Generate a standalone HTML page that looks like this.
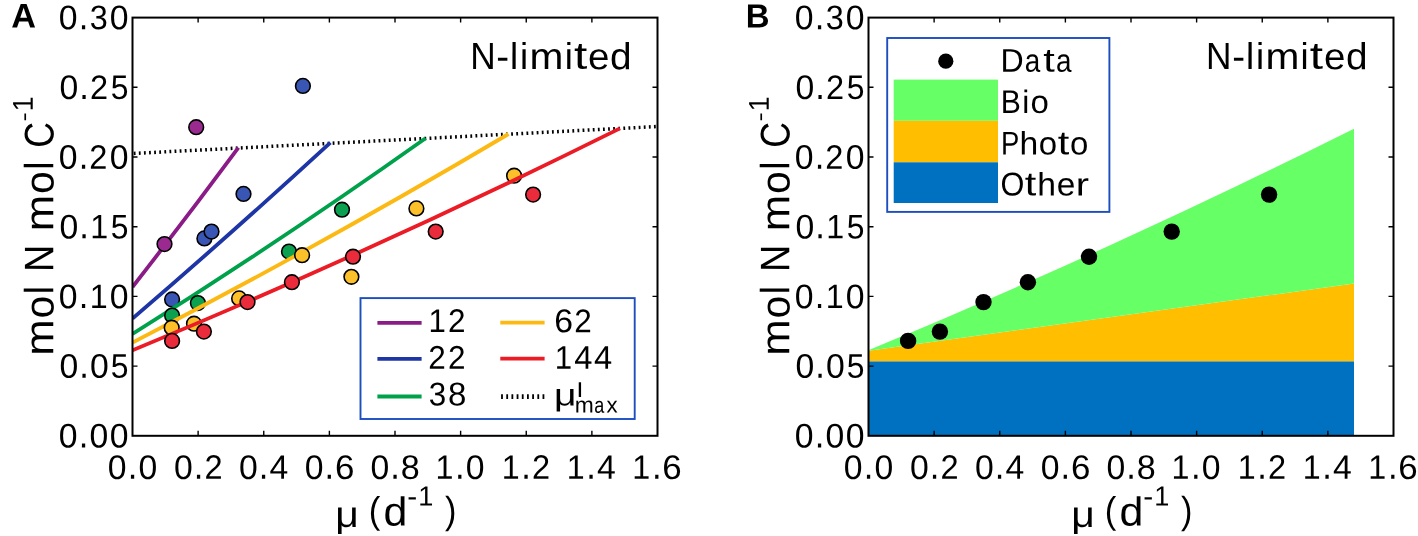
<!DOCTYPE html>
<html><head><meta charset="utf-8"><style>
html,body{margin:0;padding:0;background:#fff;width:1418px;height:536px;overflow:hidden}
svg{display:block;will-change:transform}
text{font-family:"Liberation Sans", sans-serif;font-kerning:none;text-rendering:geometricPrecision}
</style></head><body>
<svg width="1418" height="536" viewBox="0 0 1418 536">
<rect width="1418" height="536" fill="#fff"/>
<defs><clipPath id="ca"><rect x="132.5" y="17.6" width="525" height="418.20"/></clipPath></defs><g clip-path="url(#ca)">
<line x1="133.75" y1="153.45" x2="657.5" y2="126.5" stroke="#000" stroke-width="3.5" stroke-dasharray="1.8 3.307"/>
<path d="M132.5,287.0 Q185.45,219.10 238.4,147.6" fill="none" stroke="#8a1b87" stroke-width="3.8"/>
<circle cx="164.5" cy="244.1" r="7.35" fill="#9a2a90" stroke="#000" stroke-width="1.6"/>
<circle cx="196.2" cy="127.2" r="7.35" fill="#9a2a90" stroke="#000" stroke-width="1.6"/>
<path d="M132.5,318.6 Q231.45,233.60 330.4,142.6" fill="none" stroke="#1e35a5" stroke-width="3.8"/>
<circle cx="172.1" cy="299.5" r="7.35" fill="#3a56b4" stroke="#000" stroke-width="1.6"/>
<circle cx="204.4" cy="238.4" r="7.35" fill="#3a56b4" stroke="#000" stroke-width="1.6"/>
<circle cx="211.5" cy="231.6" r="7.35" fill="#3a56b4" stroke="#000" stroke-width="1.6"/>
<circle cx="243.5" cy="193.9" r="7.35" fill="#3a56b4" stroke="#000" stroke-width="1.6"/>
<circle cx="302.9" cy="85.9" r="7.35" fill="#3a56b4" stroke="#000" stroke-width="1.6"/>
<path d="M132.5,334.0 Q279.05,242.10 425.6,138.2" fill="none" stroke="#00a14b" stroke-width="3.8"/>
<circle cx="172.1" cy="315.6" r="7.35" fill="#0ba150" stroke="#000" stroke-width="1.6"/>
<circle cx="197.9" cy="303.1" r="7.35" fill="#0ba150" stroke="#000" stroke-width="1.6"/>
<circle cx="289" cy="251.6" r="7.35" fill="#0ba150" stroke="#000" stroke-width="1.6"/>
<circle cx="342" cy="209.7" r="7.35" fill="#0ba150" stroke="#000" stroke-width="1.6"/>
<path d="M132.5,342.6 Q320.50,245.50 508.5,134.0" fill="none" stroke="#fdb913" stroke-width="3.8"/>
<circle cx="171.7" cy="327.7" r="7.35" fill="#fcc12a" stroke="#000" stroke-width="1.6"/>
<circle cx="194" cy="323.7" r="7.35" fill="#fcc12a" stroke="#000" stroke-width="1.6"/>
<circle cx="239.1" cy="298.4" r="7.35" fill="#fcc12a" stroke="#000" stroke-width="1.6"/>
<circle cx="302.1" cy="255.2" r="7.35" fill="#fcc12a" stroke="#000" stroke-width="1.6"/>
<circle cx="351.4" cy="276.8" r="7.35" fill="#fcc12a" stroke="#000" stroke-width="1.6"/>
<circle cx="416.4" cy="208.4" r="7.35" fill="#fcc12a" stroke="#000" stroke-width="1.6"/>
<circle cx="514.1" cy="175.7" r="7.35" fill="#fcc12a" stroke="#000" stroke-width="1.6"/>
<path d="M132.5,350.3 Q376.25,249.75 620.0,128.4" fill="none" stroke="#ec1c26" stroke-width="3.8"/>
<circle cx="172.1" cy="340.9" r="7.35" fill="#ea2b3b" stroke="#000" stroke-width="1.6"/>
<circle cx="203.9" cy="331.6" r="7.35" fill="#ea2b3b" stroke="#000" stroke-width="1.6"/>
<circle cx="247.5" cy="302.1" r="7.35" fill="#ea2b3b" stroke="#000" stroke-width="1.6"/>
<circle cx="291.9" cy="282.2" r="7.35" fill="#ea2b3b" stroke="#000" stroke-width="1.6"/>
<circle cx="353" cy="256.7" r="7.35" fill="#ea2b3b" stroke="#000" stroke-width="1.6"/>
<circle cx="435.7" cy="231.6" r="7.35" fill="#ea2b3b" stroke="#000" stroke-width="1.6"/>
<circle cx="533.1" cy="194.6" r="7.35" fill="#ea2b3b" stroke="#000" stroke-width="1.6"/>
</g>
<rect x="360.5" y="298.1" width="274.2" height="120.9" fill="#fff" stroke="#1c4ec0" stroke-width="1.9"/>
<line x1="377.4" y1="322.8" x2="421.6" y2="322.8" stroke="#8a1b87" stroke-width="3.8"/>
<line x1="377.4" y1="358.8" x2="421.6" y2="358.8" stroke="#1e35a5" stroke-width="3.8"/>
<line x1="377.4" y1="396.5" x2="421.6" y2="396.5" stroke="#00a14b" stroke-width="3.8"/>
<line x1="500.3" y1="322.6" x2="544.6" y2="322.6" stroke="#fdb913" stroke-width="3.8"/>
<line x1="500.3" y1="358.7" x2="544.6" y2="358.7" stroke="#ec1c26" stroke-width="3.8"/>
<line x1="501.1" y1="396.6" x2="544.6" y2="396.6" stroke="#000" stroke-width="4.6" stroke-dasharray="1.8 3.38"/>
<text transform="translate(428.53,332.10) rotate(0.05) scale(0.9458,0.9954)" style="font-size:33.0px;" fill="#000">1</text>
<text transform="translate(447.91,332.10) rotate(0.05) scale(0.9545,0.9985)" style="font-size:33.0px;" fill="#000">2</text>
<text transform="translate(428.19,368.70) rotate(0.05) scale(0.9545,0.9985)" style="font-size:33.0px;" fill="#000">2</text>
<text transform="translate(447.91,368.70) rotate(0.05) scale(0.9545,0.9985)" style="font-size:33.0px;" fill="#000">2</text>
<text transform="translate(428.67,405.42) rotate(0.05) scale(0.9481,1.0005)" style="font-size:33.1px;" fill="#000">3</text>
<text transform="translate(447.89,405.42) rotate(0.05) scale(0.9980,1.0005)" style="font-size:33.1px;" fill="#000">8</text>
<text transform="translate(554.25,332.32) rotate(0.05) scale(1.0218,1.0005)" style="font-size:33.1px;" fill="#000">6</text>
<text transform="translate(574.21,332.20) rotate(0.05) scale(0.9516,0.9955)" style="font-size:33.1px;" fill="#000">2</text>
<text transform="translate(554.83,368.80) rotate(0.05) scale(0.9515,1.0015)" style="font-size:32.8px;" fill="#000">1</text>
<text transform="translate(574.29,368.80) rotate(0.05) scale(0.9964,1.0015)" style="font-size:32.8px;" fill="#000">4</text>
<text transform="translate(594.01,368.80) rotate(0.05) scale(0.9964,1.0015)" style="font-size:32.8px;" fill="#000">4</text>
<text transform="translate(554.07,405.51) rotate(0.05) scale(1.2510,1.0013)" style="font-size:31.2px;" fill="#000">μ</text>
<text transform="translate(576.94,397.00) rotate(0.05) scale(1.2891,0.9993)" style="font-size:20.3px;" fill="#000">l</text>
<text transform="translate(574.68,412.60) rotate(0.05) scale(1.0152,0.9909)" style="font-size:22.5px;" fill="#000">m</text>
<text transform="translate(594.35,412.68) rotate(0.05) scale(0.8012,0.9978)" style="font-size:22.5px;" fill="#000">a</text>
<text transform="translate(606.52,412.60) rotate(0.05) scale(0.9884,0.9855)" style="font-size:22.5px;" fill="#000">x</text>
<text transform="translate(11.25,27.50) rotate(0.05) scale(0.9995,1.0001)" style="font-size:34.3px;font-weight:bold;" fill="#000">A</text>
<text transform="translate(745.70,27.40) rotate(0.05) scale(0.9809,0.9993)" style="font-size:33.6px;font-weight:bold;" fill="#000">B</text>
<path d="M132.5,366.10h5M657.5,366.10h-5M132.5,296.40h5M657.5,296.40h-5M132.5,226.70h5M657.5,226.70h-5M132.5,157.00h5M657.5,157.00h-5M132.5,87.30h5M657.5,87.30h-5M198.12,435.8v-5M198.12,17.6v5M263.75,435.8v-5M263.75,17.6v5M329.38,435.8v-5M329.38,17.6v5M395.00,435.8v-5M395.00,17.6v5M460.62,435.8v-5M460.62,17.6v5M526.25,435.8v-5M526.25,17.6v5M591.88,435.8v-5M591.88,17.6v5" stroke="#000" stroke-width="1.4" fill="none"/>
<rect x="132.5" y="17.6" width="525" height="418.20" fill="none" stroke="#000" stroke-width="2"/>
<text transform="translate(58.87,447.57) rotate(0.05) scale(0.9863,0.9996)" style="font-size:34.2px;" fill="#000">0</text>
<text transform="translate(78.69,447.45) rotate(0.05) scale(1.0124,1.0852)" style="font-size:34.2px;" fill="#000">.</text>
<text transform="translate(89.40,447.57) rotate(0.05) scale(0.9863,0.9996)" style="font-size:34.2px;" fill="#000">0</text>
<text transform="translate(109.76,447.57) rotate(0.05) scale(0.9863,0.9996)" style="font-size:34.2px;" fill="#000">0</text>
<text transform="translate(59.54,377.87) rotate(0.05) scale(0.9863,0.9996)" style="font-size:34.2px;" fill="#000">0</text>
<text transform="translate(79.37,377.75) rotate(0.05) scale(1.0124,1.0852)" style="font-size:34.2px;" fill="#000">.</text>
<text transform="translate(90.07,377.87) rotate(0.05) scale(0.9863,0.9996)" style="font-size:34.2px;" fill="#000">0</text>
<text transform="translate(110.83,377.87) rotate(0.05) scale(0.9309,0.9966)" style="font-size:34.2px;" fill="#000">5</text>
<text transform="translate(58.87,308.17) rotate(0.05) scale(0.9863,0.9996)" style="font-size:34.2px;" fill="#000">0</text>
<text transform="translate(78.69,308.05) rotate(0.05) scale(1.0124,1.0852)" style="font-size:34.2px;" fill="#000">.</text>
<text transform="translate(89.67,308.05) rotate(0.05) scale(0.9420,0.9915)" style="font-size:34.2px;" fill="#000">1</text>
<text transform="translate(109.76,308.17) rotate(0.05) scale(0.9863,0.9996)" style="font-size:34.2px;" fill="#000">0</text>
<text transform="translate(59.54,238.47) rotate(0.05) scale(0.9863,0.9996)" style="font-size:34.2px;" fill="#000">0</text>
<text transform="translate(79.37,238.35) rotate(0.05) scale(1.0124,1.0852)" style="font-size:34.2px;" fill="#000">.</text>
<text transform="translate(90.34,238.35) rotate(0.05) scale(0.9420,0.9915)" style="font-size:34.2px;" fill="#000">1</text>
<text transform="translate(110.83,238.47) rotate(0.05) scale(0.9309,0.9966)" style="font-size:34.2px;" fill="#000">5</text>
<text transform="translate(58.87,168.77) rotate(0.05) scale(0.9863,0.9996)" style="font-size:34.2px;" fill="#000">0</text>
<text transform="translate(78.69,168.65) rotate(0.05) scale(1.0124,1.0852)" style="font-size:34.2px;" fill="#000">.</text>
<text transform="translate(89.31,168.65) rotate(0.05) scale(0.9507,0.9946)" style="font-size:34.2px;" fill="#000">2</text>
<text transform="translate(109.76,168.77) rotate(0.05) scale(0.9863,0.9996)" style="font-size:34.2px;" fill="#000">0</text>
<text transform="translate(59.54,99.07) rotate(0.05) scale(0.9863,0.9996)" style="font-size:34.2px;" fill="#000">0</text>
<text transform="translate(79.37,98.95) rotate(0.05) scale(1.0124,1.0852)" style="font-size:34.2px;" fill="#000">.</text>
<text transform="translate(89.99,98.95) rotate(0.05) scale(0.9507,0.9946)" style="font-size:34.2px;" fill="#000">2</text>
<text transform="translate(110.83,99.07) rotate(0.05) scale(0.9309,0.9966)" style="font-size:34.2px;" fill="#000">5</text>
<text transform="translate(58.87,29.37) rotate(0.05) scale(0.9863,0.9996)" style="font-size:34.2px;" fill="#000">0</text>
<text transform="translate(78.69,29.25) rotate(0.05) scale(1.0124,1.0852)" style="font-size:34.2px;" fill="#000">.</text>
<text transform="translate(89.81,29.37) rotate(0.05) scale(0.9472,0.9996)" style="font-size:34.2px;" fill="#000">3</text>
<text transform="translate(109.76,29.37) rotate(0.05) scale(0.9863,0.9996)" style="font-size:34.2px;" fill="#000">0</text>
<text transform="translate(107.85,478.92) rotate(0.05) scale(0.9863,0.9996)" style="font-size:34.2px;" fill="#000">0</text>
<text transform="translate(127.68,478.80) rotate(0.05) scale(1.0124,1.0852)" style="font-size:34.2px;" fill="#000">.</text>
<text transform="translate(138.39,478.92) rotate(0.05) scale(0.9863,0.9996)" style="font-size:34.2px;" fill="#000">0</text>
<text transform="translate(174.02,478.92) rotate(0.05) scale(0.9863,0.9996)" style="font-size:34.2px;" fill="#000">0</text>
<text transform="translate(193.85,478.80) rotate(0.05) scale(1.0124,1.0852)" style="font-size:34.2px;" fill="#000">.</text>
<text transform="translate(204.47,478.80) rotate(0.05) scale(0.9507,0.9946)" style="font-size:34.2px;" fill="#000">2</text>
<text transform="translate(238.94,478.92) rotate(0.05) scale(0.9863,0.9996)" style="font-size:34.2px;" fill="#000">0</text>
<text transform="translate(258.77,478.80) rotate(0.05) scale(1.0124,1.0852)" style="font-size:34.2px;" fill="#000">.</text>
<text transform="translate(269.47,478.80) rotate(0.05) scale(0.9864,0.9915)" style="font-size:34.2px;" fill="#000">4</text>
<text transform="translate(304.67,478.92) rotate(0.05) scale(0.9863,0.9996)" style="font-size:34.2px;" fill="#000">0</text>
<text transform="translate(324.50,478.80) rotate(0.05) scale(1.0124,1.0852)" style="font-size:34.2px;" fill="#000">.</text>
<text transform="translate(334.88,478.92) rotate(0.05) scale(1.0208,0.9996)" style="font-size:34.2px;" fill="#000">6</text>
<text transform="translate(370.39,478.92) rotate(0.05) scale(0.9863,0.9996)" style="font-size:34.2px;" fill="#000">0</text>
<text transform="translate(390.21,478.80) rotate(0.05) scale(1.0124,1.0852)" style="font-size:34.2px;" fill="#000">.</text>
<text transform="translate(400.82,478.92) rotate(0.05) scale(0.9970,0.9996)" style="font-size:34.2px;" fill="#000">8</text>
<text transform="translate(435.55,478.80) rotate(0.05) scale(0.9420,0.9915)" style="font-size:34.2px;" fill="#000">1</text>
<text transform="translate(455.10,478.80) rotate(0.05) scale(1.0124,1.0852)" style="font-size:34.2px;" fill="#000">.</text>
<text transform="translate(465.81,478.92) rotate(0.05) scale(0.9863,0.9996)" style="font-size:34.2px;" fill="#000">0</text>
<text transform="translate(501.71,478.80) rotate(0.05) scale(0.9476,0.9973)" style="font-size:34.0px;" fill="#000">1</text>
<text transform="translate(521.27,478.80) rotate(0.05) scale(1.0184,1.0916)" style="font-size:34.0px;" fill="#000">.</text>
<text transform="translate(531.89,478.80) rotate(0.05) scale(0.9563,1.0004)" style="font-size:34.0px;" fill="#000">2</text>
<text transform="translate(566.63,478.80) rotate(0.05) scale(0.9504,1.0002)" style="font-size:33.9px;" fill="#000">1</text>
<text transform="translate(586.19,478.80) rotate(0.05) scale(1.0214,1.0948)" style="font-size:33.9px;" fill="#000">.</text>
<text transform="translate(596.89,478.80) rotate(0.05) scale(0.9952,1.0002)" style="font-size:33.9px;" fill="#000">4</text>
<text transform="translate(632.37,478.80) rotate(0.05) scale(0.9420,0.9915)" style="font-size:34.2px;" fill="#000">1</text>
<text transform="translate(651.92,478.80) rotate(0.05) scale(1.0124,1.0852)" style="font-size:34.2px;" fill="#000">.</text>
<text transform="translate(662.30,478.92) rotate(0.05) scale(1.0208,0.9996)" style="font-size:34.2px;" fill="#000">6</text>
<text transform="translate(53.25,355.80) rotate(-89.95) scale(1.0661,0.9873)" style="font-size:41.0px;" fill="#000">m</text>
<text transform="translate(53.40,318.61) rotate(-89.95) scale(0.9947,0.9943)" style="font-size:41.0px;" fill="#000">o</text>
<text transform="translate(53.25,294.57) rotate(-89.95) scale(0.9565,0.9946)" style="font-size:41.0px;" fill="#000">l</text>
<text transform="translate(53.25,272.03) rotate(-89.95) scale(0.9242,1.0052)" style="font-size:41.0px;" fill="#000">N</text>
<text transform="translate(53.25,231.22) rotate(-89.95) scale(1.0661,0.9873)" style="font-size:41.0px;" fill="#000">m</text>
<text transform="translate(53.40,194.03) rotate(-89.95) scale(0.9947,0.9943)" style="font-size:41.0px;" fill="#000">o</text>
<text transform="translate(53.25,169.99) rotate(-89.95) scale(0.9565,0.9946)" style="font-size:41.0px;" fill="#000">l</text>
<text transform="translate(53.39,147.76) rotate(-89.95) scale(0.8686,1.0134)" style="font-size:41.0px;" fill="#000">C</text>
<text transform="translate(31.03,121.62) rotate(-89.95) scale(1.2589,0.9982)" style="font-size:21.8px;" fill="#000">-</text>
<text transform="translate(32.80,111.13) rotate(-89.95) scale(0.9326,1.0012)" style="font-size:28.6px;" fill="#000">1</text>
<text transform="translate(335.35,526.94) rotate(0.05) scale(1.1105,0.9999)" style="font-size:36.8px;" fill="#000">μ</text>
<text transform="translate(368.75,523.11) rotate(0.05) scale(0.9353,1.0010)" style="font-size:37.1px;" fill="#000">(</text>
<text transform="translate(383.40,525.60) rotate(0.05) scale(1.0571,0.9995)" style="font-size:40.6px;" fill="#000">d</text>
<text transform="translate(407.37,505.39) rotate(0.05) scale(1.1116,0.9993)" style="font-size:26.9px;" fill="#000">-</text>
<text transform="translate(418.13,505.60) rotate(0.05) scale(0.9761,0.9986)" style="font-size:27.8px;" fill="#000">1</text>
<text transform="translate(445.10,523.31) rotate(0.05) scale(0.9008,1.0001)" style="font-size:38.1px;" fill="#000">)</text>
<text transform="translate(470.21,69.00) rotate(0.05) scale(0.9378,1.0061)" style="font-size:37.6px;" fill="#000">N</text>
<text transform="translate(496.33,68.94) rotate(0.05) scale(1.0235,0.9732)" style="font-size:37.6px;" fill="#000">-</text>
<text transform="translate(510.09,69.00) rotate(0.05) scale(0.9706,0.9955)" style="font-size:37.6px;" fill="#000">l</text>
<text transform="translate(520.03,69.00) rotate(0.05) scale(0.9706,0.9955)" style="font-size:37.6px;" fill="#000">i</text>
<text transform="translate(529.56,69.00) rotate(0.05) scale(1.0818,0.9882)" style="font-size:37.6px;" fill="#000">m</text>
<text transform="translate(564.72,69.00) rotate(0.05) scale(0.9706,0.9955)" style="font-size:37.6px;" fill="#000">i</text>
<text transform="translate(573.95,68.70) rotate(0.05) scale(1.2690,1.0189)" style="font-size:37.6px;" fill="#000">t</text>
<text transform="translate(588.04,69.14) rotate(0.05) scale(1.0255,0.9952)" style="font-size:37.6px;" fill="#000">e</text>
<text transform="translate(610.02,69.14) rotate(0.05) scale(1.0319,1.0006)" style="font-size:37.6px;" fill="#000">d</text>
<rect x="868.5" y="361.3" width="485.5" height="74.50" fill="#0070c0"/>
<polygon points="868.5,350.8 1354,283.5 1354,361.3 868.5,361.3" fill="#ffbf00"/>
<polygon points="868.5,350.19 892.8,340.12 917.0,329.93 941.3,319.64 965.6,309.25 989.9,298.75 1014.1,288.15 1038.4,277.44 1062.7,266.63 1087.0,255.71 1111.2,244.69 1135.5,233.57 1159.8,222.33 1184.1,211.00 1208.3,199.56 1232.6,188.01 1256.9,176.36 1281.2,164.61 1305.5,152.75 1329.7,140.79 1354.0,128.72 1354,283.5 868.5,350.8" fill="#66ff66"/>
<circle cx="908.1" cy="340.9" r="8.2" fill="#000"/>
<circle cx="939.9" cy="331.6" r="8.2" fill="#000"/>
<circle cx="983.5" cy="302.1" r="8.2" fill="#000"/>
<circle cx="1027.9" cy="282.2" r="8.2" fill="#000"/>
<circle cx="1089.0" cy="256.7" r="8.2" fill="#000"/>
<circle cx="1171.7" cy="231.6" r="8.2" fill="#000"/>
<circle cx="1269.1" cy="194.6" r="8.2" fill="#000"/>
<rect x="887.2" y="38" width="222.2" height="173.9" fill="#fff" stroke="#1c4ec0" stroke-width="1.9"/>
<circle cx="945.8" cy="61.2" r="7.6" fill="#000"/>
<rect x="893.7" y="79.6" width="104.3" height="41.2" fill="#66ff66"/>
<rect x="893.7" y="120.8" width="104.3" height="41.5" fill="#ffbf00"/>
<rect x="893.7" y="162.3" width="104.3" height="40.7" fill="#0070c0"/>
<text transform="translate(1000.61,71.70) rotate(0.05) scale(0.9719,0.9954)" style="font-size:33.0px;" fill="#000">D</text>
<text transform="translate(1024.75,71.82) rotate(0.05) scale(0.8447,0.9846)" style="font-size:33.0px;" fill="#000">a</text>
<text transform="translate(1043.27,71.44) rotate(0.05) scale(1.2555,1.0081)" style="font-size:33.0px;" fill="#000">t</text>
<text transform="translate(1055.90,71.82) rotate(0.05) scale(0.8447,0.9846)" style="font-size:33.0px;" fill="#000">a</text>
<text transform="translate(1000.77,112.95) rotate(0.05) scale(0.9211,1.0045)" style="font-size:32.7px;" fill="#000">B</text>
<text transform="translate(1022.27,112.95) rotate(0.05) scale(0.9691,0.9940)" style="font-size:32.7px;" fill="#000">i</text>
<text transform="translate(1030.41,113.07) rotate(0.05) scale(1.0078,0.9936)" style="font-size:32.7px;" fill="#000">o</text>
<text transform="translate(1000.99,154.40) rotate(0.05) scale(0.8384,1.0045)" style="font-size:32.7px;" fill="#000">P</text>
<text transform="translate(1019.38,154.40) rotate(0.05) scale(1.0292,0.9940)" style="font-size:32.7px;" fill="#000">h</text>
<text transform="translate(1038.87,154.52) rotate(0.05) scale(1.0078,0.9936)" style="font-size:32.7px;" fill="#000">o</text>
<text transform="translate(1057.71,154.14) rotate(0.05) scale(1.2670,1.0173)" style="font-size:32.7px;" fill="#000">t</text>
<text transform="translate(1069.99,154.52) rotate(0.05) scale(1.0078,0.9936)" style="font-size:32.7px;" fill="#000">o</text>
<text transform="translate(1000.49,195.52) rotate(0.05) scale(0.9372,1.0127)" style="font-size:32.7px;" fill="#000">O</text>
<text transform="translate(1024.81,195.14) rotate(0.05) scale(1.2670,1.0173)" style="font-size:32.7px;" fill="#000">t</text>
<text transform="translate(1037.24,195.40) rotate(0.05) scale(1.0292,0.9940)" style="font-size:32.7px;" fill="#000">h</text>
<text transform="translate(1056.69,195.52) rotate(0.05) scale(1.0240,0.9936)" style="font-size:32.7px;" fill="#000">e</text>
<text transform="translate(1075.65,195.40) rotate(0.05) scale(1.2146,0.9867)" style="font-size:32.7px;" fill="#000">r</text>
<path d="M868.5,366.10h5M1393.5,366.10h-5M868.5,296.40h5M1393.5,296.40h-5M868.5,226.70h5M1393.5,226.70h-5M868.5,157.00h5M1393.5,157.00h-5M868.5,87.30h5M1393.5,87.30h-5M934.12,435.8v-5M934.12,17.6v5M999.75,435.8v-5M999.75,17.6v5M1065.38,435.8v-5M1065.38,17.6v5M1131.00,435.8v-5M1131.00,17.6v5M1196.62,435.8v-5M1196.62,17.6v5M1262.25,435.8v-5M1262.25,17.6v5M1327.88,435.8v-5M1327.88,17.6v5" stroke="#000" stroke-width="1.4" fill="none"/>
<rect x="868.5" y="17.6" width="525" height="418.20" fill="none" stroke="#000" stroke-width="2"/>
<text transform="translate(794.87,447.57) rotate(0.05) scale(0.9863,0.9996)" style="font-size:34.2px;" fill="#000">0</text>
<text transform="translate(814.69,447.45) rotate(0.05) scale(1.0124,1.0852)" style="font-size:34.2px;" fill="#000">.</text>
<text transform="translate(825.40,447.57) rotate(0.05) scale(0.9863,0.9996)" style="font-size:34.2px;" fill="#000">0</text>
<text transform="translate(845.76,447.57) rotate(0.05) scale(0.9863,0.9996)" style="font-size:34.2px;" fill="#000">0</text>
<text transform="translate(795.54,377.87) rotate(0.05) scale(0.9863,0.9996)" style="font-size:34.2px;" fill="#000">0</text>
<text transform="translate(815.37,377.75) rotate(0.05) scale(1.0124,1.0852)" style="font-size:34.2px;" fill="#000">.</text>
<text transform="translate(826.07,377.87) rotate(0.05) scale(0.9863,0.9996)" style="font-size:34.2px;" fill="#000">0</text>
<text transform="translate(846.83,377.87) rotate(0.05) scale(0.9309,0.9966)" style="font-size:34.2px;" fill="#000">5</text>
<text transform="translate(794.87,308.17) rotate(0.05) scale(0.9863,0.9996)" style="font-size:34.2px;" fill="#000">0</text>
<text transform="translate(814.69,308.05) rotate(0.05) scale(1.0124,1.0852)" style="font-size:34.2px;" fill="#000">.</text>
<text transform="translate(825.67,308.05) rotate(0.05) scale(0.9420,0.9915)" style="font-size:34.2px;" fill="#000">1</text>
<text transform="translate(845.76,308.17) rotate(0.05) scale(0.9863,0.9996)" style="font-size:34.2px;" fill="#000">0</text>
<text transform="translate(795.54,238.47) rotate(0.05) scale(0.9863,0.9996)" style="font-size:34.2px;" fill="#000">0</text>
<text transform="translate(815.37,238.35) rotate(0.05) scale(1.0124,1.0852)" style="font-size:34.2px;" fill="#000">.</text>
<text transform="translate(826.34,238.35) rotate(0.05) scale(0.9420,0.9915)" style="font-size:34.2px;" fill="#000">1</text>
<text transform="translate(846.83,238.47) rotate(0.05) scale(0.9309,0.9966)" style="font-size:34.2px;" fill="#000">5</text>
<text transform="translate(794.87,168.77) rotate(0.05) scale(0.9863,0.9996)" style="font-size:34.2px;" fill="#000">0</text>
<text transform="translate(814.69,168.65) rotate(0.05) scale(1.0124,1.0852)" style="font-size:34.2px;" fill="#000">.</text>
<text transform="translate(825.31,168.65) rotate(0.05) scale(0.9507,0.9946)" style="font-size:34.2px;" fill="#000">2</text>
<text transform="translate(845.76,168.77) rotate(0.05) scale(0.9863,0.9996)" style="font-size:34.2px;" fill="#000">0</text>
<text transform="translate(795.54,99.07) rotate(0.05) scale(0.9863,0.9996)" style="font-size:34.2px;" fill="#000">0</text>
<text transform="translate(815.37,98.95) rotate(0.05) scale(1.0124,1.0852)" style="font-size:34.2px;" fill="#000">.</text>
<text transform="translate(825.99,98.95) rotate(0.05) scale(0.9507,0.9946)" style="font-size:34.2px;" fill="#000">2</text>
<text transform="translate(846.83,99.07) rotate(0.05) scale(0.9309,0.9966)" style="font-size:34.2px;" fill="#000">5</text>
<text transform="translate(794.87,29.37) rotate(0.05) scale(0.9863,0.9996)" style="font-size:34.2px;" fill="#000">0</text>
<text transform="translate(814.69,29.25) rotate(0.05) scale(1.0124,1.0852)" style="font-size:34.2px;" fill="#000">.</text>
<text transform="translate(825.81,29.37) rotate(0.05) scale(0.9472,0.9996)" style="font-size:34.2px;" fill="#000">3</text>
<text transform="translate(845.76,29.37) rotate(0.05) scale(0.9863,0.9996)" style="font-size:34.2px;" fill="#000">0</text>
<text transform="translate(843.85,478.92) rotate(0.05) scale(0.9863,0.9996)" style="font-size:34.2px;" fill="#000">0</text>
<text transform="translate(863.68,478.80) rotate(0.05) scale(1.0124,1.0852)" style="font-size:34.2px;" fill="#000">.</text>
<text transform="translate(874.39,478.92) rotate(0.05) scale(0.9863,0.9996)" style="font-size:34.2px;" fill="#000">0</text>
<text transform="translate(910.02,478.92) rotate(0.05) scale(0.9863,0.9996)" style="font-size:34.2px;" fill="#000">0</text>
<text transform="translate(929.85,478.80) rotate(0.05) scale(1.0124,1.0852)" style="font-size:34.2px;" fill="#000">.</text>
<text transform="translate(940.47,478.80) rotate(0.05) scale(0.9507,0.9946)" style="font-size:34.2px;" fill="#000">2</text>
<text transform="translate(974.94,478.92) rotate(0.05) scale(0.9863,0.9996)" style="font-size:34.2px;" fill="#000">0</text>
<text transform="translate(994.77,478.80) rotate(0.05) scale(1.0124,1.0852)" style="font-size:34.2px;" fill="#000">.</text>
<text transform="translate(1005.47,478.80) rotate(0.05) scale(0.9864,0.9915)" style="font-size:34.2px;" fill="#000">4</text>
<text transform="translate(1040.67,478.92) rotate(0.05) scale(0.9863,0.9996)" style="font-size:34.2px;" fill="#000">0</text>
<text transform="translate(1060.50,478.80) rotate(0.05) scale(1.0124,1.0852)" style="font-size:34.2px;" fill="#000">.</text>
<text transform="translate(1070.88,478.92) rotate(0.05) scale(1.0208,0.9996)" style="font-size:34.2px;" fill="#000">6</text>
<text transform="translate(1106.39,478.92) rotate(0.05) scale(0.9863,0.9996)" style="font-size:34.2px;" fill="#000">0</text>
<text transform="translate(1126.21,478.80) rotate(0.05) scale(1.0124,1.0852)" style="font-size:34.2px;" fill="#000">.</text>
<text transform="translate(1136.82,478.92) rotate(0.05) scale(0.9970,0.9996)" style="font-size:34.2px;" fill="#000">8</text>
<text transform="translate(1171.55,478.80) rotate(0.05) scale(0.9420,0.9915)" style="font-size:34.2px;" fill="#000">1</text>
<text transform="translate(1191.10,478.80) rotate(0.05) scale(1.0124,1.0852)" style="font-size:34.2px;" fill="#000">.</text>
<text transform="translate(1201.81,478.92) rotate(0.05) scale(0.9863,0.9996)" style="font-size:34.2px;" fill="#000">0</text>
<text transform="translate(1237.71,478.80) rotate(0.05) scale(0.9476,0.9973)" style="font-size:34.0px;" fill="#000">1</text>
<text transform="translate(1257.27,478.80) rotate(0.05) scale(1.0184,1.0916)" style="font-size:34.0px;" fill="#000">.</text>
<text transform="translate(1267.89,478.80) rotate(0.05) scale(0.9563,1.0004)" style="font-size:34.0px;" fill="#000">2</text>
<text transform="translate(1302.63,478.80) rotate(0.05) scale(0.9504,1.0002)" style="font-size:33.9px;" fill="#000">1</text>
<text transform="translate(1322.19,478.80) rotate(0.05) scale(1.0214,1.0948)" style="font-size:33.9px;" fill="#000">.</text>
<text transform="translate(1332.89,478.80) rotate(0.05) scale(0.9952,1.0002)" style="font-size:33.9px;" fill="#000">4</text>
<text transform="translate(1368.37,478.80) rotate(0.05) scale(0.9420,0.9915)" style="font-size:34.2px;" fill="#000">1</text>
<text transform="translate(1387.92,478.80) rotate(0.05) scale(1.0124,1.0852)" style="font-size:34.2px;" fill="#000">.</text>
<text transform="translate(1398.30,478.92) rotate(0.05) scale(1.0208,0.9996)" style="font-size:34.2px;" fill="#000">6</text>
<text transform="translate(789.25,355.80) rotate(-89.95) scale(1.0661,0.9873)" style="font-size:41.0px;" fill="#000">m</text>
<text transform="translate(789.40,318.61) rotate(-89.95) scale(0.9947,0.9943)" style="font-size:41.0px;" fill="#000">o</text>
<text transform="translate(789.25,294.57) rotate(-89.95) scale(0.9565,0.9946)" style="font-size:41.0px;" fill="#000">l</text>
<text transform="translate(789.25,272.03) rotate(-89.95) scale(0.9242,1.0052)" style="font-size:41.0px;" fill="#000">N</text>
<text transform="translate(789.25,231.22) rotate(-89.95) scale(1.0661,0.9873)" style="font-size:41.0px;" fill="#000">m</text>
<text transform="translate(789.40,194.03) rotate(-89.95) scale(0.9947,0.9943)" style="font-size:41.0px;" fill="#000">o</text>
<text transform="translate(789.25,169.99) rotate(-89.95) scale(0.9565,0.9946)" style="font-size:41.0px;" fill="#000">l</text>
<text transform="translate(789.39,147.76) rotate(-89.95) scale(0.8686,1.0134)" style="font-size:41.0px;" fill="#000">C</text>
<text transform="translate(767.03,121.62) rotate(-89.95) scale(1.2589,0.9982)" style="font-size:21.8px;" fill="#000">-</text>
<text transform="translate(768.80,111.13) rotate(-89.95) scale(0.9326,1.0012)" style="font-size:28.6px;" fill="#000">1</text>
<text transform="translate(1071.35,526.94) rotate(0.05) scale(1.1105,0.9999)" style="font-size:36.8px;" fill="#000">μ</text>
<text transform="translate(1104.75,523.11) rotate(0.05) scale(0.9353,1.0010)" style="font-size:37.1px;" fill="#000">(</text>
<text transform="translate(1119.40,525.60) rotate(0.05) scale(1.0571,0.9995)" style="font-size:40.6px;" fill="#000">d</text>
<text transform="translate(1143.37,505.39) rotate(0.05) scale(1.1116,0.9993)" style="font-size:26.9px;" fill="#000">-</text>
<text transform="translate(1154.13,505.60) rotate(0.05) scale(0.9761,0.9986)" style="font-size:27.8px;" fill="#000">1</text>
<text transform="translate(1181.10,523.31) rotate(0.05) scale(0.9008,1.0001)" style="font-size:38.1px;" fill="#000">)</text>
<text transform="translate(1206.11,69.00) rotate(0.05) scale(0.9378,1.0061)" style="font-size:37.6px;" fill="#000">N</text>
<text transform="translate(1232.23,68.94) rotate(0.05) scale(1.0235,0.9732)" style="font-size:37.6px;" fill="#000">-</text>
<text transform="translate(1245.99,69.00) rotate(0.05) scale(0.9706,0.9955)" style="font-size:37.6px;" fill="#000">l</text>
<text transform="translate(1255.93,69.00) rotate(0.05) scale(0.9706,0.9955)" style="font-size:37.6px;" fill="#000">i</text>
<text transform="translate(1265.46,69.00) rotate(0.05) scale(1.0818,0.9882)" style="font-size:37.6px;" fill="#000">m</text>
<text transform="translate(1300.62,69.00) rotate(0.05) scale(0.9706,0.9955)" style="font-size:37.6px;" fill="#000">i</text>
<text transform="translate(1309.85,68.70) rotate(0.05) scale(1.2690,1.0189)" style="font-size:37.6px;" fill="#000">t</text>
<text transform="translate(1323.94,69.14) rotate(0.05) scale(1.0255,0.9952)" style="font-size:37.6px;" fill="#000">e</text>
<text transform="translate(1345.92,69.14) rotate(0.05) scale(1.0319,1.0006)" style="font-size:37.6px;" fill="#000">d</text>
</svg>
</body></html>
